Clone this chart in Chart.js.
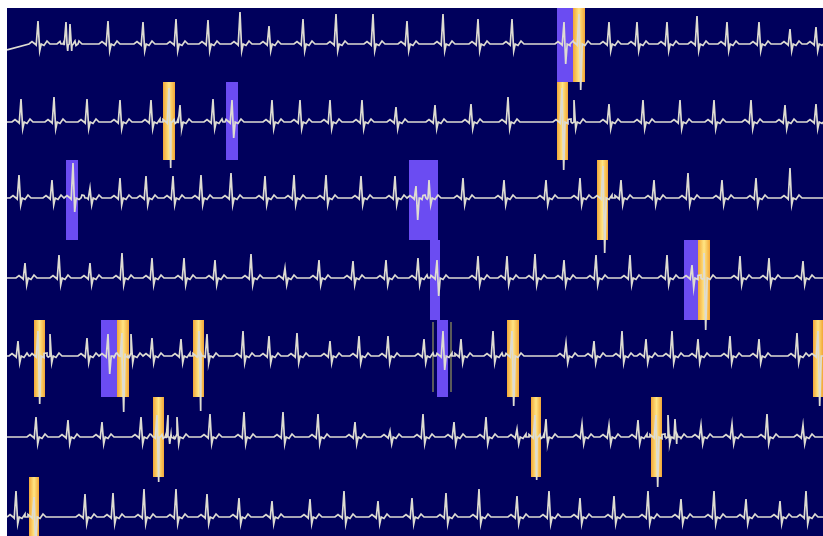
<!DOCTYPE html>
<html>
<head>
<meta charset="utf-8">
<script src="https://cdn.jsdelivr.net/npm/chart.js@4/dist/chart.umd.min.js"></script>
<style>
  html, body { margin: 0; padding: 0; background: #ffffff; }
  #wrap { position: absolute; left: 7px; top: 8px; width: 816px; height: 528px; background: #00005c; }
  canvas { display: block; }
</style>
</head>
<body>
<div id="wrap"><canvas id="ecg" width="816" height="528"></canvas></div>
<script>
// Strip layout (one ECG lead / time slice per strip)
const rowBase = [44, 122, 198, 278, 356, 437, 517];
const rowBands = [8, 82, 160, 240, 320, 397, 477, 556];
const rowStartOffset = [6, 0, 0, 0, 0, 0, 0];

// Beat positions (R peaks) and R heights per strip
const beatsX = [
  [38, 66, 70, 108, 143, 176, 208, 240, 269, 303, 336, 373, 407, 443, 478, 512, 564, 579, 609, 637, 667, 697, 727, 759, 790, 816],
  [21, 54, 87, 120, 151, 169, 180, 213, 232, 272, 300, 330, 362, 396, 435, 471, 508, 562, 574, 609, 643, 680, 714, 751, 785, 816],
  [19, 52, 73, 90, 120, 146, 173, 201, 231, 265, 294, 326, 361, 395, 416, 429, 463, 504, 546, 580, 603, 621, 654, 688, 722, 756, 790],
  [25, 59, 90, 122, 152, 184, 215, 251, 285, 319, 353, 386, 418, 437, 478, 507, 535, 564, 596, 630, 667, 692, 704, 740, 769, 803],
  [18, 38, 50, 87, 108, 122, 131, 152, 181, 199, 207, 243, 269, 297, 330, 359, 388, 424, 443, 461, 493, 512, 566, 594, 622, 646, 672, 698, 730, 759, 797, 818],
  [36, 68, 102, 141, 157, 168, 177, 210, 244, 283, 318, 355, 390, 423, 454, 486, 517, 535, 546, 582, 609, 638, 656, 668, 675, 701, 732, 767, 803],
  [16, 34, 85, 113, 144, 176, 207, 239, 272, 310, 344, 378, 412, 446, 479, 517, 549, 580, 614, 648, 681, 714, 746, 780, 806]
];
const beatsH = [
  [23, 22, 20, 23, 22, 25, 24, 32, 18, 25, 30, 30, 23, 30, 25, 25, 22, 30, 22, 22, 22, 28, 22, 22, 15, 17],
  [23, 25, 23, 22, 22, 34, 17, 23, 22, 22, 22, 22, 22, 15, 17, 18, 25, 34, 22, 18, 22, 22, 22, 22, 17, 18],
  [23, 18, 35, 10, 20, 22, 22, 23, 25, 22, 23, 23, 22, 22, 12, 18, 20, 18, 18, 20, 32, 18, 18, 25, 18, 20, 30],
  [15, 23, 15, 25, 20, 20, 18, 24, 10, 18, 17, 18, 20, 18, 22, 22, 24, 18, 23, 23, 23, 13, 25, 22, 20, 17],
  [15, 25, 22, 18, 22, 23, 22, 18, 17, 25, 22, 25, 20, 23, 15, 20, 20, 17, 25, 17, 25, 25, 13, 15, 25, 17, 25, 17, 20, 17, 23, 25],
  [20, 17, 15, 20, 22, 22, 20, 23, 25, 25, 23, 15, 6, 23, 15, 20, 8, 22, 18, 13, 12, 17, 22, 22, 18, 12, 13, 23, 12],
  [26, 20, 23, 24, 28, 28, 23, 19, 16, 18, 26, 16, 19, 24, 28, 21, 26, 19, 21, 26, 18, 26, 18, 16, 26]
];
// Beats with a deep S wave: [strip, x, depth]
const deepBeats = [
  [0, 564, 20], [0, 579, 46],
  [1, 169, 46], [1, 232, 16], [1, 562, 48],
  [2, 73, 14], [2, 416, 22], [2, 603, 55],
  [3, 437, 18], [3, 692, 10], [3, 704, 52],
  [4, 38, 48], [4, 108, 18], [4, 122, 56], [4, 199, 55], [4, 443, 14], [4, 512, 50], [4, 818, 50],
  [5, 157, 45], [5, 535, 43], [5, 656, 50],
  [6, 34, 30]
];
// Beat waveform: P, Q, R, S, T
const beatDx = [-9, -6, -3, -1.8, 0, 1.7, 3.2, 6, 9, 12];
const beatWave = [0, -2.5, 0, 1.2, 0, 0, 0, 1.5, -3, 0];

// Highlighted beats: [strip, start, end]
const purpleMarks = [[0, 557, 573], [1, 226, 238], [2, 66, 78], [2, 409, 438], [3, 430, 440], [3, 684, 698], [4, 101, 117], [4, 437, 448]];
const yellowMarks = [[0, 573, 585], [1, 163, 175], [1, 557, 568], [2, 597, 608], [3, 698, 710],
  [4, 34, 45], [4, 117, 129], [4, 193, 204], [4, 507, 519], [4, 813, 823],
  [5, 153, 164], [5, 531, 541], [5, 651, 662], [6, 29, 39]];
// Bracket lines around the highlighted beat on strip 5: [x, top, bottom]
const bracketLines = [[433, 322, 392], [451, 322, 392]];

function stripPoints(r) {
  const pts = [{x: 7, y: rowBase[r] + rowStartOffset[r]}];
  beatsX[r].forEach((bx, i) => {
    const deep = deepBeats.find(d => d[0] === r && d[1] === bx);
    const s = deep ? deep[2] : 7;
    beatDx.forEach((dx, k) => {
      let y = rowBase[r] + beatWave[k];
      if (k === 4) y = rowBase[r] - beatsH[r][i];
      if (k === 5) y = rowBase[r] + s;
      pts.push({x: bx + dx, y: y});
    });
  });
  pts.push({x: 823, y: rowBase[r]});
  pts.sort((a, b) => a.x - b.x);
  return pts;
}

function markBox(m) {
  const top = rowBands[m[0]], bottom = rowBands[m[0] + 1];
  return [{x: m[1], y: top}, {x: m[2], y: top}, {x: m[2], y: bottom}, {x: m[1], y: bottom}, {x: m[1], y: top}];
}

function yellowFill(m) {
  return function(ctx) {
    const chart = ctx.chart;
    if (!chart.chartArea) return '#f8c850';
    const xs = chart.scales.x;
    const g = chart.ctx.createLinearGradient(xs.getPixelForValue(m[1]), 0, xs.getPixelForValue(m[2]), 0);
    g.addColorStop(0, '#f2a636');
    g.addColorStop(0.5, '#ffe584');
    g.addColorStop(1, '#f2a636');
    return g;
  };
}

const datasets = [];
rowBase.forEach((b, r) => {
  datasets.push({
    data: stripPoints(r),
    borderColor: '#dedcd2',
    borderWidth: 1.7,
    pointRadius: 0,
    tension: 0,
    fill: false
  });
});
bracketLines.forEach(l => {
  datasets.push({
    data: [{x: l[0], y: l[1]}, {x: l[0], y: l[2]}],
    borderColor: '#5a5a5a',
    borderWidth: 2,
    pointRadius: 0,
    fill: false
  });
});
yellowMarks.forEach(m => {
  datasets.push({
    data: markBox(m),
    borderWidth: 0,
    borderColor: 'rgba(0,0,0,0)',
    backgroundColor: yellowFill(m),
    pointRadius: 0,
    fill: 'shape'
  });
});
purpleMarks.forEach(m => {
  datasets.push({
    data: markBox(m),
    borderWidth: 0,
    borderColor: 'rgba(0,0,0,0)',
    backgroundColor: '#6b4cf2',
    pointRadius: 0,
    fill: 'shape'
  });
});

new Chart(document.getElementById('ecg').getContext('2d'), {
  type: 'line',
  data: { datasets: datasets },
  options: {
    responsive: false,
    animation: false,
    layout: { padding: 0 },
    scales: {
      x: { type: 'linear', min: 7, max: 823, display: false },
      y: { type: 'linear', min: 8, max: 536, reverse: true, display: false }
    },
    plugins: {
      legend: { display: false },
      tooltip: { enabled: false }
    }
  }
});
</script>
</body>
</html>
